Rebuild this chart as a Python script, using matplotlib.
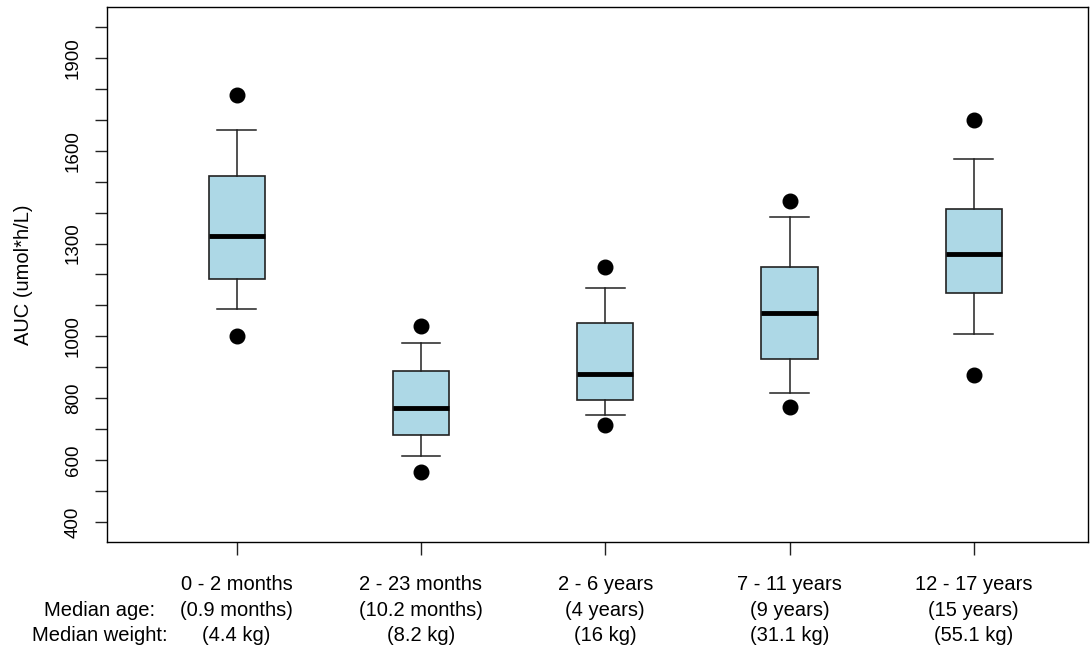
import matplotlib
matplotlib.use("Agg")
import matplotlib.pyplot as plt
import matplotlib.transforms as mtransforms

plt.rcParams['font.family'] = ['Liberation Sans', 'DejaVu Sans']

# groups and labels
groups = ["0 - 2 months", "2 - 23 months", "2 - 6 years", "7 - 11 years", "12 - 17 years"]
median_age = ["(0.9 months)", "(10.2 months)", "(4 years)", "(9 years)", "(15 years)"]
median_weight = ["(4.4 kg)", "(8.2 kg)", "(16 kg)", "(31.1 kg)", "(55.1 kg)"]

# AUC summary values (umol*h/L)
p_low = [1001, 563, 712, 772, 876]
whisk_low = [1089, 612, 745, 817, 1006]
q1 = [1186, 682, 795, 928, 1140]
medians = [1323, 769, 878, 1076, 1265]
q3 = [1518, 887, 1044, 1225, 1412]
whisk_high = [1666, 977, 1157, 1386, 1574]
p_high = [1781, 1035, 1224, 1439, 1698]

ytick_vals = list(range(400, 2001, 100))
ytick_shown = [400, 600, 800, 1000, 1300, 1600, 1900]

stats = []
for i in range(len(groups)):
    stats.append({
        'med': medians[i], 'q1': q1[i], 'q3': q3[i],
        'whislo': whisk_low[i], 'whishi': whisk_high[i],
        'fliers': [p_low[i], p_high[i]], 'label': groups[i],
    })

fig = plt.figure(figsize=(10.91, 6.49), dpi=100)
ax = fig.add_axes([0.0978, 0.1653, 0.8995, 0.8235])

positions = list(range(1, len(groups) + 1))
ax.bxp(stats, positions=positions, widths=0.304, capwidths=0.21,
       patch_artist=True, manage_ticks=False,
       boxprops=dict(facecolor='#ADD8E6', edgecolor='#222222', linewidth=1.2),
       medianprops=dict(color='black', linewidth=3.5, solid_capstyle='butt'),
       whiskerprops=dict(color='#222222', linewidth=1.1),
       capprops=dict(color='#222222', linewidth=1.1),
       flierprops=dict(marker='o', markerfacecolor='black', markeredgecolor='black',
                       markersize=10.5, linestyle='none'))

ax.set_xlim(0.295, 5.62)
ax.set_ylim(336, 2064)

ax.set_yticks(ytick_vals)
ax.set_yticklabels([str(v) if v in ytick_shown else '' for v in ytick_vals],
                   rotation=90, va='center', fontsize=13.5)
ax.set_xticks(positions)
ax.set_xticklabels([])
ax.tick_params(axis='both', length=9, width=1, color='#222222', pad=9)

for s in ax.spines.values():
    s.set_linewidth(1)
    s.set_color('black')

ax.set_ylabel('AUC (umol*h/L)', fontsize=14.5)
ax.yaxis.set_label_coords(-0.075, 0.5)

# three-line category labels under the axis
trans = mtransforms.blended_transform_factory(ax.transData, fig.transFigure)
rows_y = [1 - 590 / 649, 1 - 616 / 649, 1 - 641 / 649]
for i, x in enumerate(positions):
    for txt, yy in zip([groups[i], median_age[i], median_weight[i]], rows_y):
        ax.text(x, yy, txt, transform=trans, ha='center', va='baseline',
                fontsize=14.5, clip_on=False)

fig.text(100 / 1091, rows_y[1], 'Median age:', ha='center', va='baseline', fontsize=14.5)
fig.text(100 / 1091, rows_y[2], 'Median weight:', ha='center', va='baseline', fontsize=14.5)

fig.savefig('out.png', dpi=100)
